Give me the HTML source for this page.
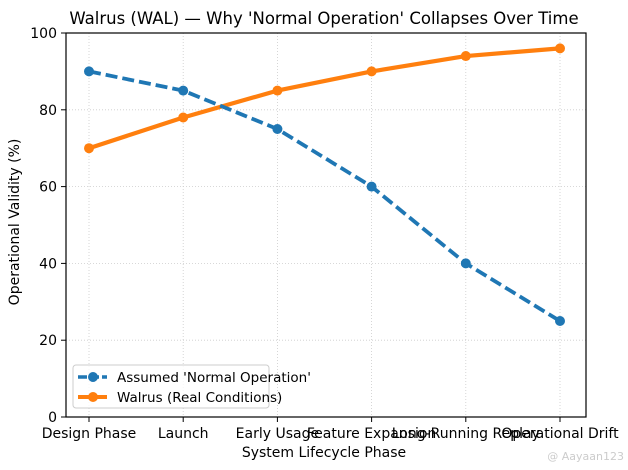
<!DOCTYPE html>
<html><head><meta charset="utf-8"><style>
html,body{margin:0;padding:0;background:#fff;}
svg{display:block;font-family:"DejaVu Sans","Liberation Sans",sans-serif;}
</style></head><body>
<svg id="chart" width="628" height="470" viewBox="0 0 628 470">
<text x="324" y="24" text-anchor="middle" font-size="16.5" fill="#000">Walrus (WAL) — Why 'Normal Operation' Collapses Over Time</text>
<g id="grid"></g>
<g id="series"></g>
<rect x="66" y="33" width="520" height="384" fill="none" stroke="#000" stroke-width="1.2"/>
<g id="axes"></g>
<text x="324" y="457" text-anchor="middle" font-size="14">System Lifecycle Phase</text>
<text transform="translate(19,222) rotate(-90)" text-anchor="middle" font-size="14">Operational Validity (%)</text>
<g>
<rect x="73" y="365" width="196" height="43" rx="3" fill="#fff" fill-opacity="0.8" stroke="#ccc"/>
<line x1="78" y1="377" x2="107" y2="377" stroke="#1f77b4" stroke-width="3.5" stroke-dasharray="9,3"/>
<circle cx="93" cy="377" r="5" fill="#1f77b4"/>
<text x="117" y="382" font-size="13.5">Assumed 'Normal Operation'</text>
<line x1="78" y1="397" x2="107" y2="397" stroke="#ff7f0e" stroke-width="4"/>
<circle cx="93" cy="397" r="5" fill="#ff7f0e"/>
<text x="117" y="402" font-size="13.5">Walrus (Real Conditions)</text>
</g>
<text x="624" y="460" text-anchor="end" font-size="11" fill="#ccc">@ Aayaan123</text>
</svg>
<script>
const categories=["Design Phase","Launch","Early Usage","Feature Expansion","Long-Running Replay","Operational Drift"];
const assumedValues=[90,85,75,60,40,25];
const walrusValues=[70,78,85,90,94,96];
const yTicks=[0,20,40,60,80,100];
const NS="http://www.w3.org/2000/svg";
const xScale=i=>89+i*94.2;
const yScale=v=>417-v*3.84;
function mk(tag,attrs,parent){const e=document.createElementNS(NS,tag);for(const k in attrs)e.setAttribute(k,attrs[k]);parent.appendChild(e);return e;}
const grid=document.getElementById('grid'),axes=document.getElementById('axes'),series=document.getElementById('series');
categories.forEach((c,i)=>{
  const x=xScale(i);
  const g=mk('line',{x1:x,x2:x,y1:33,y2:417,stroke:'#ccc','stroke-dasharray':'1,2','stroke-width':0.8},grid);
  
  
  mk('line',{x1:x,x2:x,y1:417,y2:422,stroke:'#000'},axes);
  const t=mk('text',{x:x,y:438,'text-anchor':'middle','font-size':14},axes);
  t.textContent=c;
  
  
});
yTicks.forEach(v=>{
  const y=yScale(v);
  const g=mk('line',{x1:66,x2:586,y1:y,y2:y,stroke:'#ccc','stroke-dasharray':'1,2','stroke-width':0.8},grid);
  
  
  mk('line',{x1:61,x2:66,y1:y,y2:y,stroke:'#000'},axes);
  const t=mk('text',{x:57,y:y+5,'text-anchor':'end','font-size':14},axes);
  t.textContent=v;
  
  
});
function draw(vals,color,dash,name){
  const pts=vals.map((v,i)=>xScale(i)+','+yScale(v)).join(' ');
  const a={points:pts,fill:'none',stroke:color,'stroke-width':dash?3.8:4.2,'stroke-linejoin':'round'};
  if(dash)a['stroke-dasharray']='12,5';
  const l=mk('polyline',a,series);
  
  
  vals.forEach((v,i)=>{
    const c=mk('circle',{cx:xScale(i),cy:yScale(v),r:5,fill:color},series);
    
    
  });
}
draw(walrusValues,'#ff7f0e',false,'walrus');
draw(assumedValues,'#1f77b4',true,'assumed');
</script>
</body></html>
